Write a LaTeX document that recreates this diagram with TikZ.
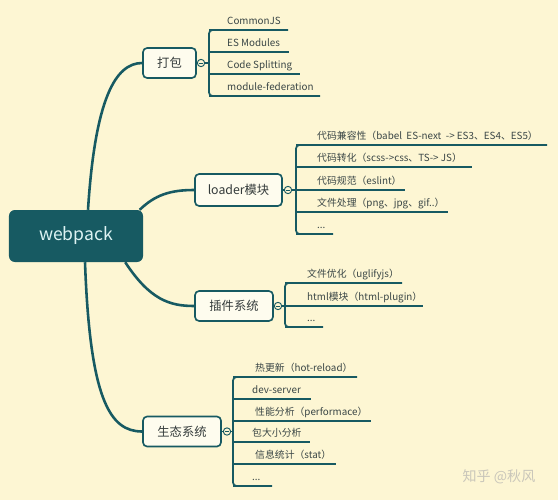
\documentclass[tikz,border=0pt]{standalone}
\usepackage{fontspec}
\setmainfont{Noto Sans CJK SC}
\definecolor{bgcream}{HTML}{FDF6D3}
\definecolor{mapteal}{HTML}{175A62}
\definecolor{roottext}{HTML}{DDF3F3}
\definecolor{nodefill}{HTML}{FEFCEE}
\definecolor{topictext}{HTML}{333A3A}
\definecolor{leaftext}{HTML}{3A4646}
\definecolor{markgray}{HTML}{C9C6BA}
\begin{document}
\begin{tikzpicture}[x=0.03cm,y=-0.03cm,
rootnode/.style={rectangle, rounded corners=5pt, fill=mapteal, text=roottext, font=\fontsize{15}{18}\selectfont, minimum width=4.02cm, minimum height=1.56cm},
topicnode/.style={rectangle, rounded corners=3.5pt, draw=mapteal, line width=1.4pt, fill=nodefill, text=topictext, font=\fontsize{10.5}{12}\selectfont, minimum height=0.9cm},
toggle/.style={circle, draw=mapteal, line width=0.8pt, fill=bgcream, minimum size=0.22cm, inner sep=0pt},
leaf/.style={anchor=base west, inner sep=0pt, text=leaftext, font=\fontsize{8.4}{10}\selectfont},
bar/.style={draw=mapteal, line width=1.5pt},
branch/.style={draw=mapteal, line width=2.2pt},
watermark/.style={text=markgray, font=\fontsize{12}{14}\selectfont},
]
\fill[bgcream] (0,0) rectangle (558,500);
\useasboundingbox (0,0) rectangle (558,500);

% root and main topics
\node[rootnode] (root) at (76,236) {webpack};
\node[topicnode, minimum width=1.59cm] (dabao) at (169.5,63) {打包};
\node[topicnode, minimum width=2.61cm, minimum height=0.96cm] (loader) at (238.5,190) {loader模块};
\node[topicnode, minimum width=2.34cm] (plugin) at (234,306) {插件系统};
\node[topicnode, minimum width=2.34cm] (eco) at (182,431.5) {生态系统};

\draw[branch] ([xshift=3.6mm]root.north) .. controls (95,100) and (115,63) .. (dabao.west);
\draw[branch] ([xshift=-3pt]root.north east) .. controls (155,195) and (170,190) .. (loader.west);
\draw[branch] ([xshift=-5.4mm]root.south east) .. controls (150,300) and (170,306) .. (plugin.west);
\draw[branch] ([xshift=2.7mm]root.south) .. controls (90,400) and (110,431.5) .. (eco.west);

% 打包
\node[toggle] (pk-c) at (201,63) {};
\foreach \y/\e/\t [count=\i] in {30/288/{CommonJS}, 52/289/{ES Modules}, 74/300/{Code Splitting}, 96/320/{module-federation}}{
  \coordinate (pk-s\i) at (209,\y);
  \coordinate (pk-e\i) at (\e,\y);
  \draw[bar] (pk-s\i) -- (pk-e\i);
  \node[leaf] (pk-t\i) at (227,\y-6) {\t};
}
\draw[bar, rounded corners=3pt] (pk-e1) -- (pk-s1) -- (pk-s4) -- (pk-e4);
\draw[bar] (dabao) -- (pk-c);
\draw[bar] (pk-c) -- (pk-c -| pk-s1);

% loader
\node[toggle] (ld-c) at (288,190) {};
\foreach \y/\e/\t [count=\i] in {145/547/{代码兼容性（babel~\ ES-next~\ -> ES3、ES4、ES5）}, 167/472/{代码转化（scss->css、TS-> JS）}, 190/405/{代码规范（eslint）}, 212/448/{文件处理（png、jpg、gif..）}, 234/333/{...}}{
  \coordinate (ld-s\i) at (296,\y);
  \coordinate (ld-e\i) at (\e,\y);
  \draw[bar] (ld-s\i) -- (ld-e\i);
  \node[leaf] (ld-t\i) at (317,\y-6) {\t};
}
\draw[bar, rounded corners=3pt] (ld-e1) -- (ld-s1) -- (ld-s5) -- (ld-e5);
\draw[bar] (loader) -- (ld-c);
\draw[bar] (ld-c) -- (ld-c -| ld-s1);

% plugin
\node[toggle] (pl-c) at (278,306) {};
\foreach \y/\e/\t [count=\i] in {283/402/{文件优化（uglifyjs）}, 306/423/{html模块（html-plugin）}, 327/323/{...}}{
  \coordinate (pl-s\i) at (285,\y);
  \coordinate (pl-e\i) at (\e,\y);
  \draw[bar] (pl-s\i) -- (pl-e\i);
  \node[leaf] (pl-t\i) at (307,\y-6) {\t};
}
\draw[bar, rounded corners=3pt] (pl-e1) -- (pl-s1) -- (pl-s3) -- (pl-e3);
\draw[bar] (plugin) -- (pl-c);
\draw[bar] (pl-c) -- (pl-c -| pl-s1);

% eco
\node[toggle] (ec-c) at (227,431.5) {};
\foreach \y/\e/\x/\t [count=\i] in {377/357/255/{热更新（hot-reload）}, 399/311/252/{dev-server}, 421/371/255/{性能分析（performace）}, 442/310/252/{包大小分析}, 464/336/255/{信息统计（stat）}, 486/272/252/{...}}{
  \coordinate (ec-s\i) at (233,\y);
  \coordinate (ec-e\i) at (\e,\y);
  \draw[bar] (ec-s\i) -- (ec-e\i);
  \node[leaf] (ec-t\i) at (\x,\y-6) {\t};
}
\draw[bar, rounded corners=3pt] (ec-e1) -- (ec-s1) -- (ec-s6) -- (ec-e6);
\draw[bar] (eco) -- (ec-c);
\draw[bar] (ec-c) -- (ec-c -| ec-s1);

% minus signs
\foreach \c in {pk-c, ld-c, pl-c, ec-c}
  \draw[mapteal, line width=0.5pt] ([xshift=-1.4pt]\c.center) -- ([xshift=1.4pt]\c.center);

\node[watermark] (mark) at (499,477) {知乎 @秋风};
\end{tikzpicture}
\end{document}
